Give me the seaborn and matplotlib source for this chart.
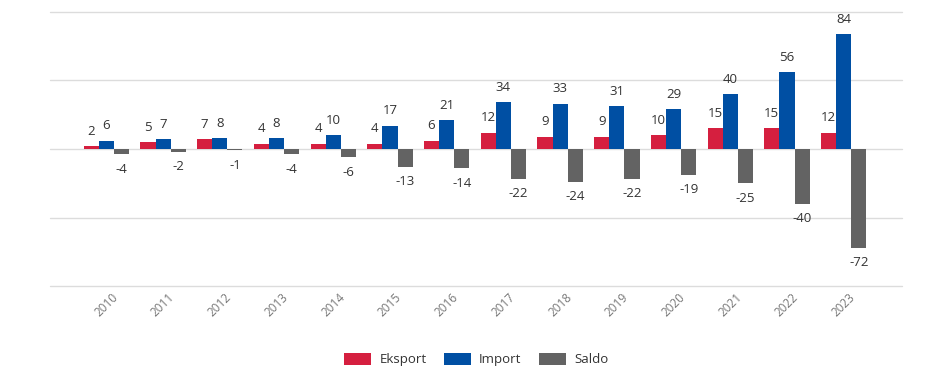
import matplotlib
import pandas as pd
import seaborn as sns
import matplotlib.pyplot as plt

matplotlib.use('Agg')

years = [str(y) for y in range(2010, 2024)]
eksport = [2, 5, 7, 4, 4, 4, 6, 12, 9, 9, 10, 15, 15, 12]
importv = [6, 7, 8, 8, 10, 17, 21, 34, 33, 31, 29, 40, 56, 84]
saldo = [-4, -2, -1, -4, -6, -13, -14, -22, -24, -22, -19, -25, -40, -72]
series = ['Eksport', 'Import', 'Saldo']
colors = {'Eksport': '#d51f3f', 'Import': '#004fa3', 'Saldo': '#636363'}

df = pd.DataFrame({
    'year': years * 3,
    'value': eksport + importv + saldo,
    'series': ['Eksport'] * 14 + ['Import'] * 14 + ['Saldo'] * 14,
})

sns.set_style('white')
plt.rcParams['font.family'] = ['Open Sans', 'DejaVu Sans']

fig = plt.figure(figsize=(9.3, 3.84), dpi=100)
ax = fig.add_axes([0.054, 0.255, 0.916, 0.714])

sns.barplot(data=df, x='year', y='value', hue='series', hue_order=series,
            palette=colors, width=0.8, ax=ax, saturation=1, zorder=3,
            linewidth=0)

for cont in ax.containers:
    ax.bar_label(cont, padding=6, fontsize=9.5, color='#333333')

ax.set_ylim(-100, 100)
ax.set_xlim(-0.99, 14.03)
ax.set_yticks([-100, -50, 0, 50, 100])
ax.yaxis.grid(True, color='#dcdcdc', linewidth=1, zorder=0)
for gl in ax.get_ygridlines():
    gl.set_clip_on(False)
ax.tick_params(axis='y', left=False, labelleft=False)
ax.tick_params(axis='x', bottom=False, pad=0, colors='#777777', labelsize=8.5)
plt.setp(ax.get_xticklabels(), rotation=45, ha='center')
ax.set_xlabel('')
ax.set_ylabel('')
for s in ax.spines.values():
    s.set_visible(False)

ax.legend(loc='upper center', bbox_to_anchor=(0.5, -0.2), ncol=3, frameon=False,
          fontsize=9.5, handlelength=2.1, handleheight=1.0, columnspacing=1.3,
          handletextpad=0.6, labelcolor='#333333')

plt.savefig('out.png', dpi=100)
